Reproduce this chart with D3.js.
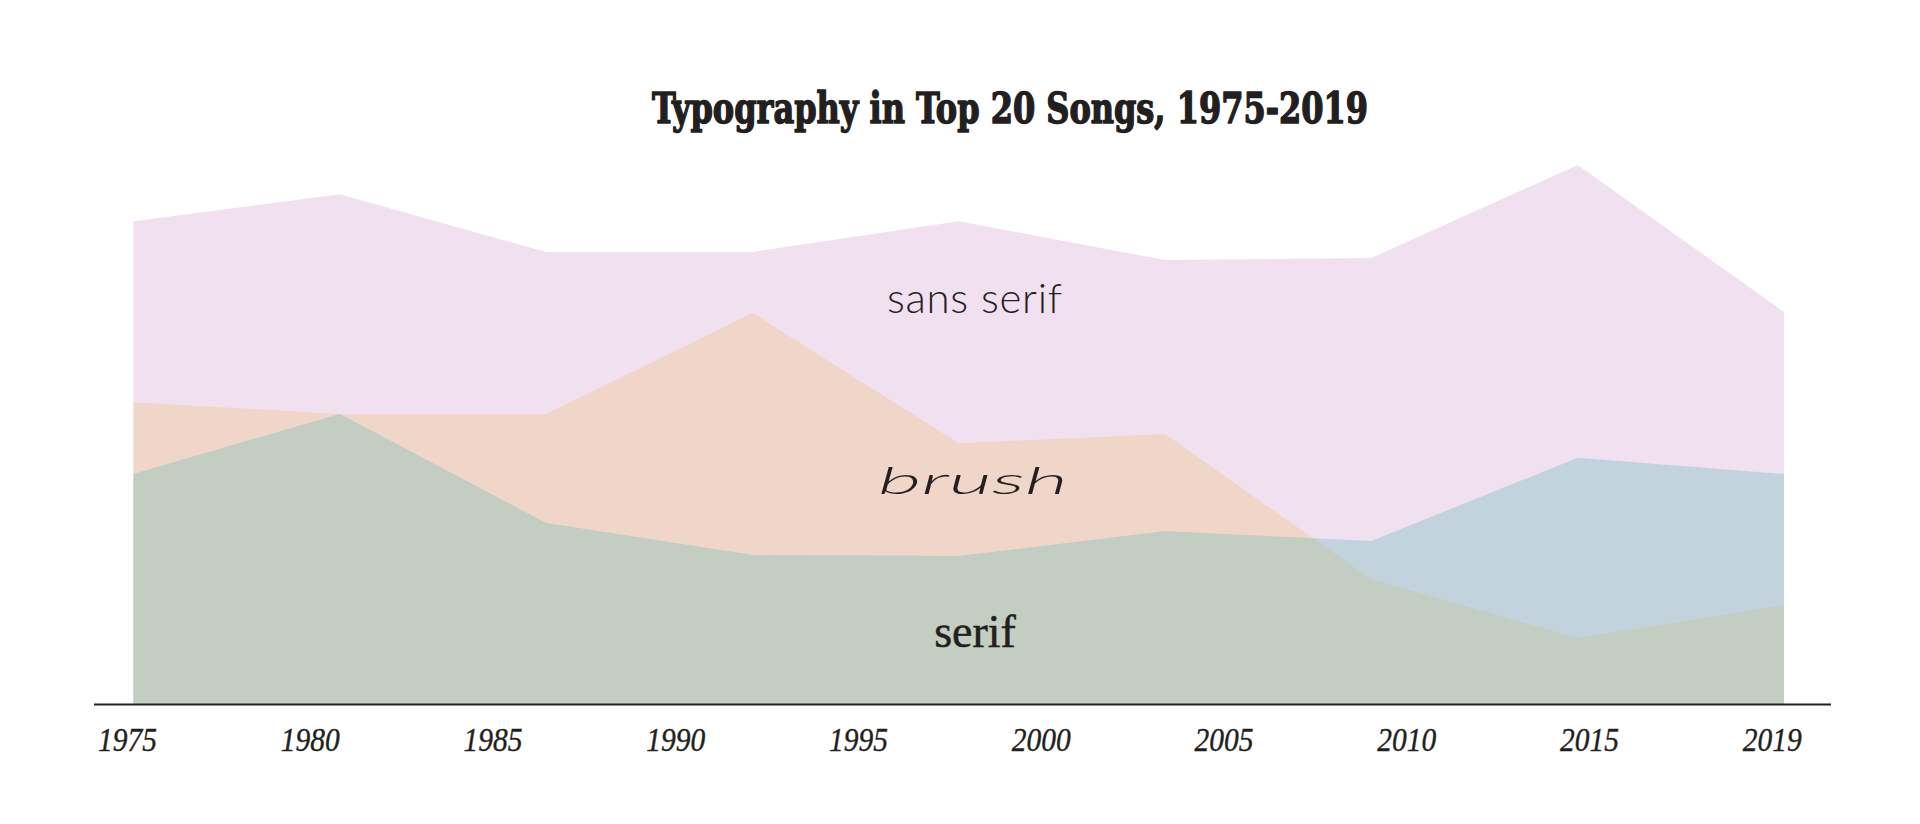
<!DOCTYPE html>
<html>
<head>
<meta charset="utf-8">
<script src="https://cdn.jsdelivr.net/npm/d3@7"></script>
<style>
  html, body { margin: 0; padding: 0; background: #ffffff; }
  svg { display: block; }
</style>
</head>
<body>
<svg id="chart" width="1920" height="824"></svg>
<script>
// ---- data ----
const years = [1975, 1980.5, 1986, 1991.5, 1997, 2002.5, 2008, 2013.5, 2019];
const sansSerif = [89.4, 94.4, 83.7, 83.7, 89.4, 82.2, 82.6, 99.8, 72.6];
const brush     = [55.9, 53.7, 53.7, 72.4, 48.3, 50.0, 23.1, 12.2, 18.3];
const serif     = [42.6, 53.7, 33.5, 27.6, 27.4, 32.0, 30.2, 45.6, 42.6];
const tickLabels = ["1975", "1980", "1985", "1990", "1995", "2000", "2005", "2010", "2015", "2019"];
const titleText = "Typography in Top 20 Songs, 1975-2019";

// ---- drawing ----
const svg = d3.select("#chart");
const W = 1920, H = 824;
svg.append("rect").attr("width", W).attr("height", H).attr("fill", "#ffffff");

const x = d3.scaleLinear().domain([1975, 2019]).range([133.5, 1784]);
const y = d3.scaleLinear().domain([0, 100]).range([704, 164]);

const area = d3.area()
  .x((d, i) => x(years[i]))
  .y0(y(0))
  .y1(d => y(d));

const defs = svg.append("defs");
defs.append("clipPath").attr("id", "clipBrush")
  .append("path").attr("d", area(brush));

const g = svg.append("g");
g.append("path").attr("d", area(sansSerif)).attr("fill", "#F1E0F0");
g.append("path").attr("d", area(brush)).attr("fill", "#F0D6C9");
g.append("path").attr("d", area(serif)).attr("fill", "#C3D3DE");
g.append("path").attr("d", area(serif)).attr("fill", "#C3CDC1")
  .attr("clip-path", "url(#clipBrush)");

// baseline
svg.append("line")
  .attr("x1", 94).attr("x2", 1831)
  .attr("y1", y(0) + 0.5).attr("y2", y(0) + 0.5)
  .attr("stroke", "#231f20").attr("stroke-width", 2);

// x axis labels
const xTick = d3.scalePoint().domain(tickLabels).range([127, 1771.7]);
const axis = svg.append("g")
  .attr("transform", `translate(0,${y(0)})`)
  .call(d3.axisBottom(xTick).tickSize(0));
axis.select(".domain").remove();
axis.selectAll(".tick text")
  .attr("dy", null)
  .attr("y", 46.7)
  .attr("font-family", "'Liberation Serif', 'DejaVu Serif', serif")
  .attr("font-style", "italic")
  .attr("font-size", 34)
  .attr("fill", "#231f20")
  .attr("stroke", "#231f20")
  .attr("stroke-width", 0.4)
  .attr("textLength", 59)
  .attr("lengthAdjust", "spacingAndGlyphs");

// title
svg.append("text")
  .attr("x", 1010).attr("y", 123)
  .attr("text-anchor", "middle")
  .attr("font-family", "'DejaVu Serif Condensed', 'DejaVu Serif', serif")
  .attr("font-weight", "bold")
  .attr("font-size", 42)
  .attr("fill", "#231f20")
  .attr("stroke", "#231f20")
  .attr("stroke-width", 1.4)
  .attr("stroke-linejoin", "round")
  .attr("textLength", 716)
  .attr("lengthAdjust", "spacingAndGlyphs")
  .text(titleText);

// series labels
svg.append("text")
  .attr("x", 974.5).attr("y", 313)
  .attr("text-anchor", "middle")
  .attr("font-family", "Lato, 'Open Sans', sans-serif")
  .attr("font-weight", 300)
  .attr("font-size", 42)
  .attr("fill", "#231f20")
  .attr("textLength", 175)
  .attr("lengthAdjust", "spacing")
  .text("sans serif");

svg.append("text")
  .attr("x", 973).attr("y", 494)
  .attr("text-anchor", "middle")
  .attr("font-family", "Lato, 'Open Sans', sans-serif")
  .attr("font-style", "italic")
  .attr("font-weight", 300)
  .attr("font-size", 38)
  .attr("fill", "#231f20")
  .attr("textLength", 190)
  .attr("lengthAdjust", "spacingAndGlyphs")
  .text("brush");

svg.append("text")
  .attr("x", 975).attr("y", 647)
  .attr("text-anchor", "middle")
  .attr("font-family", "'Liberation Serif', 'DejaVu Serif', serif")
  .attr("font-size", 46)
  .attr("fill", "#231f20")
  .attr("stroke", "#231f20")
  .attr("stroke-width", 0.5)
  .text("serif");
</script>
</body>
</html>
